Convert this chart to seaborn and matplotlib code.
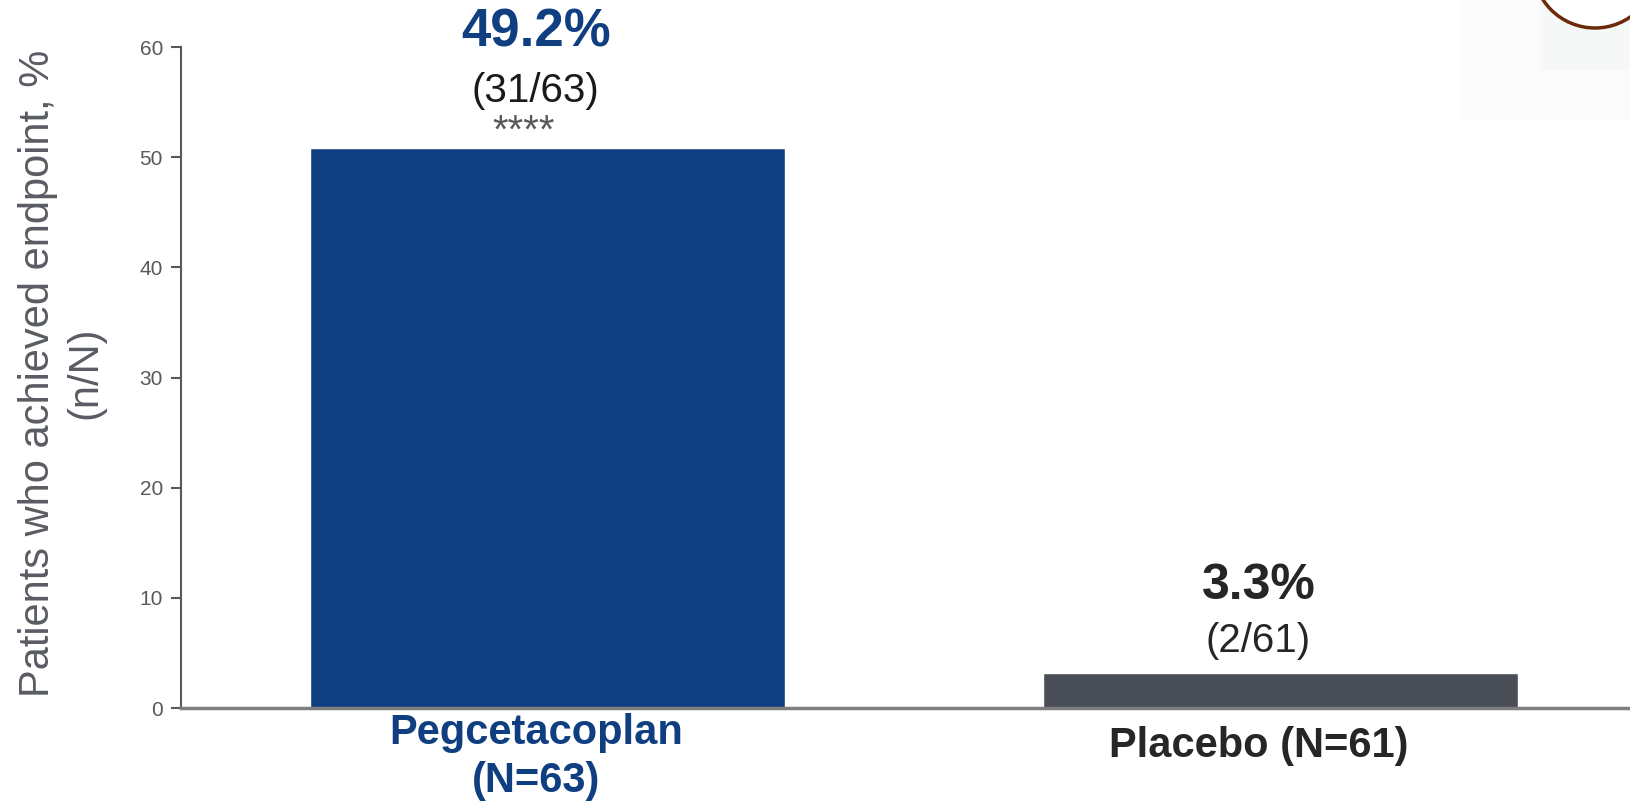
import matplotlib
matplotlib.use("Agg")
import matplotlib.pyplot as plt
from matplotlib import font_manager
from matplotlib.patches import Ellipse, Rectangle
import seaborn as sns
import pandas as pd

# data
groups = ["Pegcetacoplan", "Placebo"]
bar_heights = [50.8, 3.2]
pct_labels = ["49.2%", "3.3%"]
n_labels = ["(31/63)", "(2/61)"]
x_labels = ["Pegcetacoplan\n(N=63)", "Placebo (N=61)"]
bar_colors = ["#0f3f80", "#4a4e56"]
text_colors = ["#0f3f80", "#262626"]
y_ticks = [0, 10, 20, 30, 40, 50, 60]

df = pd.DataFrame({"group": groups, "value": bar_heights})

sns.set_style("white")
names = {f.name for f in font_manager.fontManager.ttflist}
narrow = "Liberation Sans Narrow" if "Liberation Sans Narrow" in names else "Liberation Sans"
plt.rcParams["font.family"] = [narrow, "DejaVu Sans"]

fig = plt.figure(figsize=(16.3, 8.05), dpi=100)
ax = fig.add_axes([181 / 1630, 1 - 708 / 805, 1 - 181 / 1630, (708 - 47) / 805])

sns.barplot(data=df, x="group", y="value", hue="group", palette=bar_colors,
            width=0.648, saturation=1, legend=False, ax=ax)

ax.set_xlim(-0.5, 1.477)
ax.set_ylim(0, 60)
ax.set_yticks(y_ticks)
ax.tick_params(axis="y", direction="out", length=7, width=1.5, color="#595959",
               labelsize=15, labelcolor="#595959", pad=6, left=True)
ax.set_xticks([])
ax.set_xlabel("")
ax.set_ylabel("")
for lab in ax.get_yticklabels():
    lab.set_family(["Liberation Sans", "DejaVu Sans"])
sns.despine(ax=ax)
ax.spines["left"].set_color("#595959")
ax.spines["left"].set_linewidth(1.5)
ax.spines["bottom"].set_color("#7f7f7f")
ax.spines["bottom"].set_linewidth(2.5)

# value annotations
ax.text(-0.016, 61.3, pct_labels[0], ha="center", va="center", fontsize=38,
        fontweight="bold", color=text_colors[0])
ax.text(-0.016, 56.0, n_labels[0], ha="center", va="center", fontsize=29,
        color="#1a1a1a")
ax.text(-0.033, 52.3, "****", ha="center", va="center", fontsize=29,
        color="#595959")
ax.text(0.97, 11.1, pct_labels[1], ha="center", va="center", fontsize=36,
        fontweight="bold", color=text_colors[1])
ax.text(0.97, 6.1, n_labels[1], ha="center", va="center", fontsize=29,
        color="#262626")

# category labels
xt = ax.get_xaxis_transform()
ax.text(-0.016, -0.074, x_labels[0], transform=xt, ha="center", va="center",
        fontsize=30, fontweight="bold", color=text_colors[0], linespacing=1.25)
ax.text(0.97, -0.0575, x_labels[1], transform=xt, ha="center", va="center",
        fontsize=30, fontweight="bold", color=text_colors[1])

fig.text(62 / 1630, 1 - 373 / 805, "Patients who achieved endpoint, %\n(n/N)",
         rotation=90, ha="center", va="center", fontsize=30, color="#595c62",
         linespacing=1.25)

# slide decoration top right
fig.add_artist(Rectangle((1460 / 1630, 1 - 120 / 805), 170 / 1630, 120 / 805,
                         transform=fig.transFigure, color="#fbfbfb", lw=0))
fig.add_artist(Rectangle((1540 / 1630, 1 - 70 / 805), 90 / 1630, 70 / 805,
                         transform=fig.transFigure, color="#f6f7f7", lw=0))
fig.add_artist(Ellipse((1595 / 1630, 1 + 34 / 805), 124 / 1630, 124 / 805,
                       transform=fig.transFigure, fill=True, facecolor="white",
                       edgecolor="#6b2a0a", lw=2.5))

fig.savefig("out.png", dpi=100)
